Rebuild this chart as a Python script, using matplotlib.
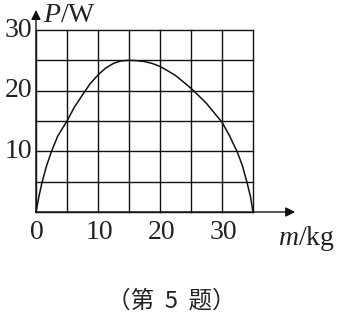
import numpy as np
import matplotlib.pyplot as plt
import matplotlib as mpl

mpl.rcParams.update({
    "font.family": ["Liberation Serif", "Noto Sans CJK SC"],
    "mathtext.fontset": "custom",
    "mathtext.it": "Liberation Serif:italic",
    "mathtext.rm": "Liberation Serif",
    "font.size": 20,
})

# values
m = [0, 0.5, 1, 1.7, 2.5, 3.5, 5, 6.2, 7.5, 8.7, 10, 11.2, 12.5, 13.7, 15, 16.2,
     17.5, 18.7, 20, 21.2, 22.5, 23.7, 25, 26.2, 27.5, 28.7, 30, 31.2, 32.5,
     33.3, 34, 34.6, 35]
P = [0, 2.7, 5, 7.6, 10, 12.5, 15, 17.3, 19.3, 21.1, 22.6, 23.7, 24.5, 24.9, 25, 24.95,
     24.8, 24.5, 24.0, 23.3, 22.5, 21.5, 20.4, 19.2, 17.9, 16.4, 14.8, 12.6, 9.8,
     7.6, 5, 2.5, 0]
xticks = [0, 10, 20, 30]
yticks = [10, 20, 30]
grid_x = np.arange(0, 36, 5)
grid_y = np.arange(0, 31, 5)

W, H = 341, 315
fig = plt.figure(figsize=(W / 100, H / 100), dpi=100)
ax = fig.add_axes([36 / W, (H - 212) / H, (253 - 36) / W, (212 - 30) / H])
ax.set_xlim(0, 35)
ax.set_ylim(0, 30)
ax.axis('off')

for gx in grid_x:
    ax.plot([gx, gx], [0, 30], color='#111', lw=1.0, clip_on=False)
for gy in grid_y:
    ax.plot([0, 35], [gy, gy], color='#111', lw=1.0, clip_on=False)

ax.plot(m, P, color='#111', lw=1.1, clip_on=False)

# axes arrows
ax.annotate('', xy=(41.8, 0), xytext=(0, 0),
            arrowprops=dict(arrowstyle='-|>', color='#111', lw=1.0,
                            mutation_scale=14, shrinkA=0, shrinkB=0),
            annotation_clip=False)
ax.annotate('', xy=(0, 33.3), xytext=(0, 0),
            arrowprops=dict(arrowstyle='-|>', color='#111', lw=1.0,
                            mutation_scale=14, shrinkA=0, shrinkB=0),
            annotation_clip=False)

for t in xticks:
    ax.text(t + 0.2, -1.4, str(t), ha='center', va='top', color='#222')
for t in yticks:
    ax.text(-0.6, t, str(t), ha='right', va='center', color='#222')

ax.text(1.2, 32.4, r'$P$/W', ha='left', va='center', color='#222')
ax.text(43.6, -4.4, r'$m$/kg', ha='center', va='center', color='#222')

fig.text(171 / W, 1 - 301 / H, '（第  5  题）', ha='center', va='center',
         fontsize=17, color='#222',
         family=['Noto Sans CJK SC', 'Liberation Serif'])

fig.savefig('out.png', dpi=100)
